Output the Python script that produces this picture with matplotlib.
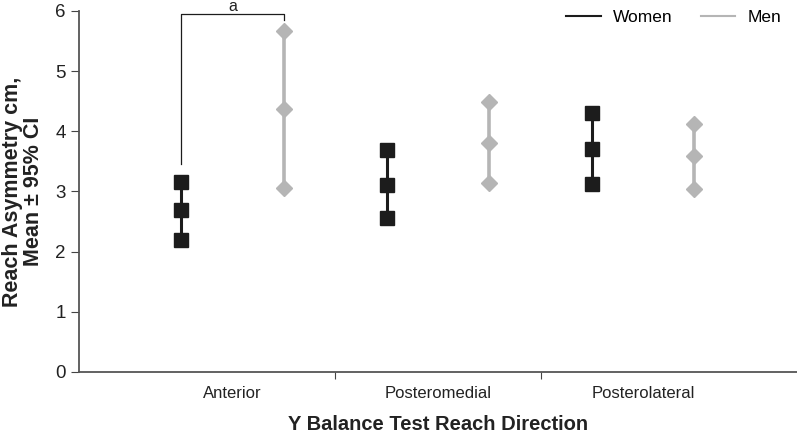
import matplotlib.pyplot as plt

plt.rcParams['font.family'] = ['Liberation Sans', 'DejaVu Sans']

directions = ["Anterior", "Posteromedial", "Posterolateral"]
women_mean = [2.69, 3.11, 3.71]
women_lo = [2.19, 2.55, 3.13]
women_hi = [3.16, 3.68, 4.30]
men_mean = [4.37, 3.81, 3.58]
men_lo = [3.06, 3.14, 3.04]
men_hi = [5.67, 4.49, 4.12]

fig = plt.figure(figsize=(7.97, 4.34), dpi=100)
ax = fig.add_axes([0.099, 0.143, 0.901, 0.832])

xs = [1, 2, 3]
xw = [x - 0.25 for x in xs]
xm = [x + 0.25 for x in xs]

for i in range(3):
    ax.plot([xw[i]] * 3, [women_lo[i], women_mean[i], women_hi[i]], color='#1c1c1c',
            lw=2.2, marker='s', ms=10, mfc='#1c1c1c', mec='#1c1c1c', zorder=3)
    ax.plot([xm[i]] * 3, [men_lo[i], men_mean[i], men_hi[i]], color='#b5b5b5',
            lw=2.6, marker='D', ms=8, mfc='#b5b5b5', mec='#b5b5b5', zorder=3)

# significance bracket
ax.plot([xw[0], xw[0], xm[0], xm[0]], [3.45, 5.95, 5.95, 5.85], color='#1c1c1c', lw=0.9, clip_on=False)
ax.text(1, 5.955, "a", ha='center', va='bottom', fontsize=11.5, color='#222222')

ax.plot([], [], color='#1c1c1c', lw=1.5, label="Women")
ax.plot([], [], color='#b5b5b5', lw=1.5, label="Men")
ax.legend(loc='upper right', ncol=2, frameon=False, fontsize=12.5, handlelength=2.0,
          handletextpad=0.7, columnspacing=1.6, bbox_to_anchor=(1.0, 1.045))

ax.set_xlim(0.25, 3.75)
ax.set_ylim(0, 6)
ax.set_xticks([1.5, 2.5])
ax.set_xticklabels([])
ax.set_xticks(xs, minor=True)
ax.set_xticklabels(directions, minor=True, fontsize=12, color='#222222')
ax.tick_params(axis='x', which='minor', length=0, pad=10)
ax.tick_params(axis='x', which='major', length=5, color='#444444')
ax.set_yticks(range(7))
ax.tick_params(axis='y', labelsize=13.5, length=6, color='#444444', labelcolor='#222222')

for s in ['top', 'right']:
    ax.spines[s].set_visible(False)
for s in ['left', 'bottom']:
    ax.spines[s].set_color('#555555')
    ax.spines[s].set_linewidth(1.3)

ax.set_xlabel("Y Balance Test Reach Direction", fontsize=14.5, fontweight='bold', labelpad=10, color='#222222')
ax.set_ylabel("Reach Asymmetry cm,\nMean ± 95% CI", fontsize=15.5, fontweight='bold', labelpad=8,
              color='#222222', linespacing=1.0)

fig.savefig("out.png", dpi=100)
